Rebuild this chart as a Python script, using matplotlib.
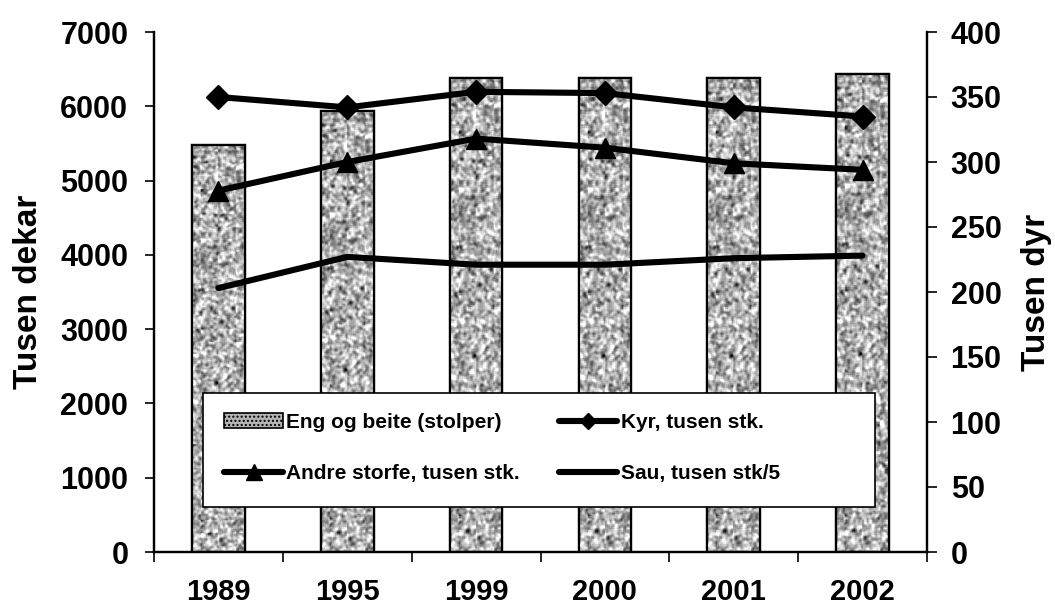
import numpy as np
import matplotlib
matplotlib.use("Agg")
import matplotlib.pyplot as plt
from matplotlib.patches import Patch, Rectangle
from matplotlib.lines import Line2D

# ---------- data ----------
years = ["1989", "1995", "1999", "2000", "2001", "2002"]
eng_beite = [5480, 5930, 6380, 6380, 6380, 6440]     # tusen dekar (bars)
kyr = [350, 342, 354, 353, 342, 335]                 # tusen stk.
andre_storfe = [278, 300, 318, 311, 299, 294]        # tusen stk.
sau = [203, 227, 221, 221, 226, 228]                 # tusen stk / 5

plt.rcParams["font.family"] = ["Liberation Sans", "DejaVu Sans"]
plt.rcParams["font.weight"] = "bold"

W, H = 1055, 612
fig = plt.figure(figsize=(W / 100, H / 100), dpi=100)
ax = fig.add_axes([154 / W, (H - 552) / H, 773 / W, 520 / H])
ax2 = ax.twinx()

x = np.arange(len(years)) + 0.5
bars = ax.bar(x, eng_beite, width=0.41, color="#a8a8a8", edgecolor="black",
              linewidth=1.6, zorder=2)

# granite-like texture inside the bars (style only)
rng = np.random.default_rng(7)
tex = rng.standard_normal((440, 56))
for _ in range(2):
    p = np.pad(tex, 1, mode="wrap")
    tex = sum(p[i:i + 440, j:j + 56] for i in range(3) for j in range(3)) / 9.0
tex = (tex - tex.mean()) / tex.std()
for b in bars:
    im = ax.imshow(tex, cmap="gray", vmin=-4.4, vmax=2.0, aspect="auto",
                   extent=(b.get_x(), b.get_x() + b.get_width(), 0, b.get_height()),
                   zorder=2.5, interpolation="nearest")
    im.set_clip_path(b)
    ax.bar(b.get_x() + b.get_width() / 2, b.get_height(), width=b.get_width(),
           fill=False, edgecolor="black", linewidth=1.6, zorder=3)

ax.set_xlim(0, len(years))
ax.set_ylim(0, 7000)
ax.set_yticks(range(0, 7001, 1000))
ax.set_xticks(np.arange(len(years) + 1))
ax.set_xticklabels([])
ax.set_xticks(x, minor=True)
ax.set_xticklabels(years, minor=True)
ax.tick_params(axis="x", which="major", length=7.5, width=1.2, direction="out")
ax.tick_params(axis="x", which="minor", length=0, pad=19, labelsize=21)
ax.tick_params(axis="y", length=6.5, width=1.2, direction="out", labelsize=22, pad=12)
ax.set_ylabel("Tusen dekar", fontsize=24, fontweight="bold", labelpad=12)

ax2.set_ylim(0, 400)
ax2.set_yticks(range(0, 401, 50))
ax2.tick_params(axis="y", length=7, width=1.2, direction="out", labelsize=22, pad=10)
ax2.set_ylabel("Tusen dyr", fontsize=24, fontweight="bold", labelpad=14)

for a in (ax, ax2):
    a.spines["top"].set_visible(False)
    for s in ("left", "right", "bottom"):
        a.spines[s].set_linewidth(1.6)
for lab in ax.get_yticklabels() + ax2.get_yticklabels() + ax.get_xticklabels(minor=True):
    lab.set_fontweight("bold")

lw = 4.4
style = dict(color="black", linewidth=lw, solid_capstyle="round",
             solid_joinstyle="round", zorder=4)
ax2.plot(x, kyr, marker="D", markersize=12, **style)
ax2.plot(x, andre_storfe, marker="^", markersize=14, **style)
ax2.plot(x, sau, **style)

# ---------- legend ----------
handles = [
    Patch(facecolor="#b4b4b4", edgecolor="black", hatch="....", linewidth=1.2),
    Line2D([], [], color="black", linewidth=lw, marker="^", markersize=11,
           solid_capstyle="round"),
    Line2D([], [], color="black", linewidth=lw, marker="D", markersize=8,
           solid_capstyle="round"),
    Line2D([], [], color="black", linewidth=lw, solid_capstyle="round"),
]
labels = ["Eng og beite (stolper)", "Andre storfe, tusen stk.",
          "Kyr, tusen stk.", "Sau, tusen stk/5"]

frame = Rectangle((203 / W, 1 - 507 / H), 672 / W, 114 / H, transform=fig.transFigure,
                  facecolor="white", edgecolor="black", linewidth=1.2, zorder=5)
fig.patches.append(frame)

leg = fig.legend(handles, labels, ncol=2, loc="center left",
                 bbox_to_anchor=(214 / W, 1 - 448 / H), frameon=False,
                 borderpad=0, labelspacing=1.55, columnspacing=1.9,
                 handlelength=2.8, handletextpad=0.15,
                 prop={"weight": "bold", "size": 15})
leg.set_zorder(6)

fig.savefig("out.png", dpi=100)
